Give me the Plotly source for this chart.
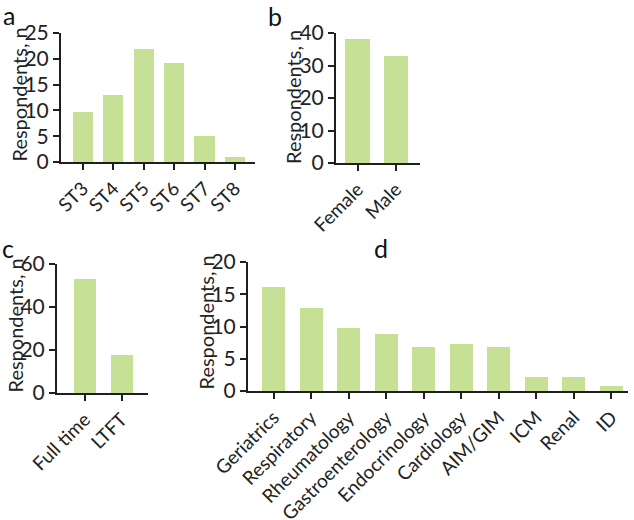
import plotly.graph_objects as go

W, H = 634, 520

# Data
stage_labels = ["ST3", "ST4", "ST5", "ST6", "ST7", "ST8"]
stage_values = [9.7, 13.0, 21.9, 19.2, 5.0, 0.9]

sex_labels = ["Female", "Male"]
sex_values = [38.2, 33.0]

work_labels = ["Full time", "LTFT"]
work_values = [52.9, 17.8]

spec_labels = ["Geriatrics", "Respiratory", "Rheumatology", "Gastroenterology",
               "Endocrinology", "Cardiology", "AIM/GIM", "ICM", "Renal", "ID"]
spec_values = [16.1, 12.9, 9.8, 8.9, 6.8, 7.3, 6.9, 2.1, 2.1, 0.7]

BAR = "#c6e195"
AX = "#1f1f1f"
FONT = "Lato"

fig = go.Figure()

# panel definitions: (labels, values, x0px, x1px, ytop_px, y0_px, yrange, dtick, xrange, width, title shift)
panels = [
    (stage_labels, stage_values, 61, 255, 33, 162, 25, 5, [-0.72, 5.66], 0.66, 3),
    (sex_labels, sex_values, 336, 420, 33, 163, 40, 10, [-0.57, 1.63], 0.65, 1),
    (work_labels, work_values, 57, 148, 264, 393, 60, 20, [-0.76, 1.72], 0.6, 3),
    (spec_labels, spec_values, 248, 628, 262, 391, 20, 5, [-0.68, 9.44], 0.61, 4),
]

layout = {}
annotations = []
for i, (labs, vals, x0, x1, yt, yb, ymax, dt, xr, bw, sh) in enumerate(panels):
    n = "" if i == 0 else str(i + 1)
    fig.add_trace(go.Bar(x=list(range(len(labs))), y=vals, width=bw,
                         marker=dict(color=BAR, line=dict(width=0)),
                         xaxis="x" + n, yaxis="y" + n, showlegend=False))
    layout["xaxis" + n] = dict(
        domain=[x0 / W, x1 / W], anchor="y" + n, range=xr, automargin=False,
        tickmode="array", tickvals=list(range(len(labs))), ticktext=labs,
        tickangle=-45, ticks="outside", ticklen=6, tickwidth=2, tickcolor=AX,
        showline=True, linecolor=AX, linewidth=2, showgrid=False, zeroline=False,
        tickfont=dict(family=FONT, size=19, color="#222"), fixedrange=True)
    layout["yaxis" + n] = dict(
        domain=[1 - yb / H, 1 - yt / H], anchor="x" + n, range=[0, ymax], automargin=False,
        dtick=dt, tick0=0, ticks="outside", ticklen=6, tickwidth=2, tickcolor=AX,
        showline=True, linecolor=AX, linewidth=2, showgrid=False, zeroline=False,
        tickfont=dict(family=FONT, size=21, color="#222"), fixedrange=True)
    annotations.append(dict(
        text="Respondents, n", textangle=-90, xref="paper", yref="paper",
        x=(x0 - 43) / W, y=1 - ((yt + yb) / 2 - sh) / H, xanchor="center", yanchor="middle",
        showarrow=False, font=dict(family=FONT, size=20, color="#222")))

for letter, px, py in [("a", 9, 15), ("b", 275, 16), ("c", 8, 248), ("d", 381, 248)]:
    annotations.append(dict(text=letter, xref="paper", yref="paper", x=px / W, y=1 - py / H,
                            xanchor="center", yanchor="middle", showarrow=False,
                            font=dict(family=FONT, size=25, color="#111")))

fig.update_layout(width=W, height=H, margin=dict(l=0, r=0, t=0, b=0),
                  paper_bgcolor="white", plot_bgcolor="white",
                  annotations=annotations, bargap=0, **layout)

fig.write_html("out.html", config={"displayModeBar": False},
               post_script="document.body.style.margin='0';document.body.style.padding='0';")
